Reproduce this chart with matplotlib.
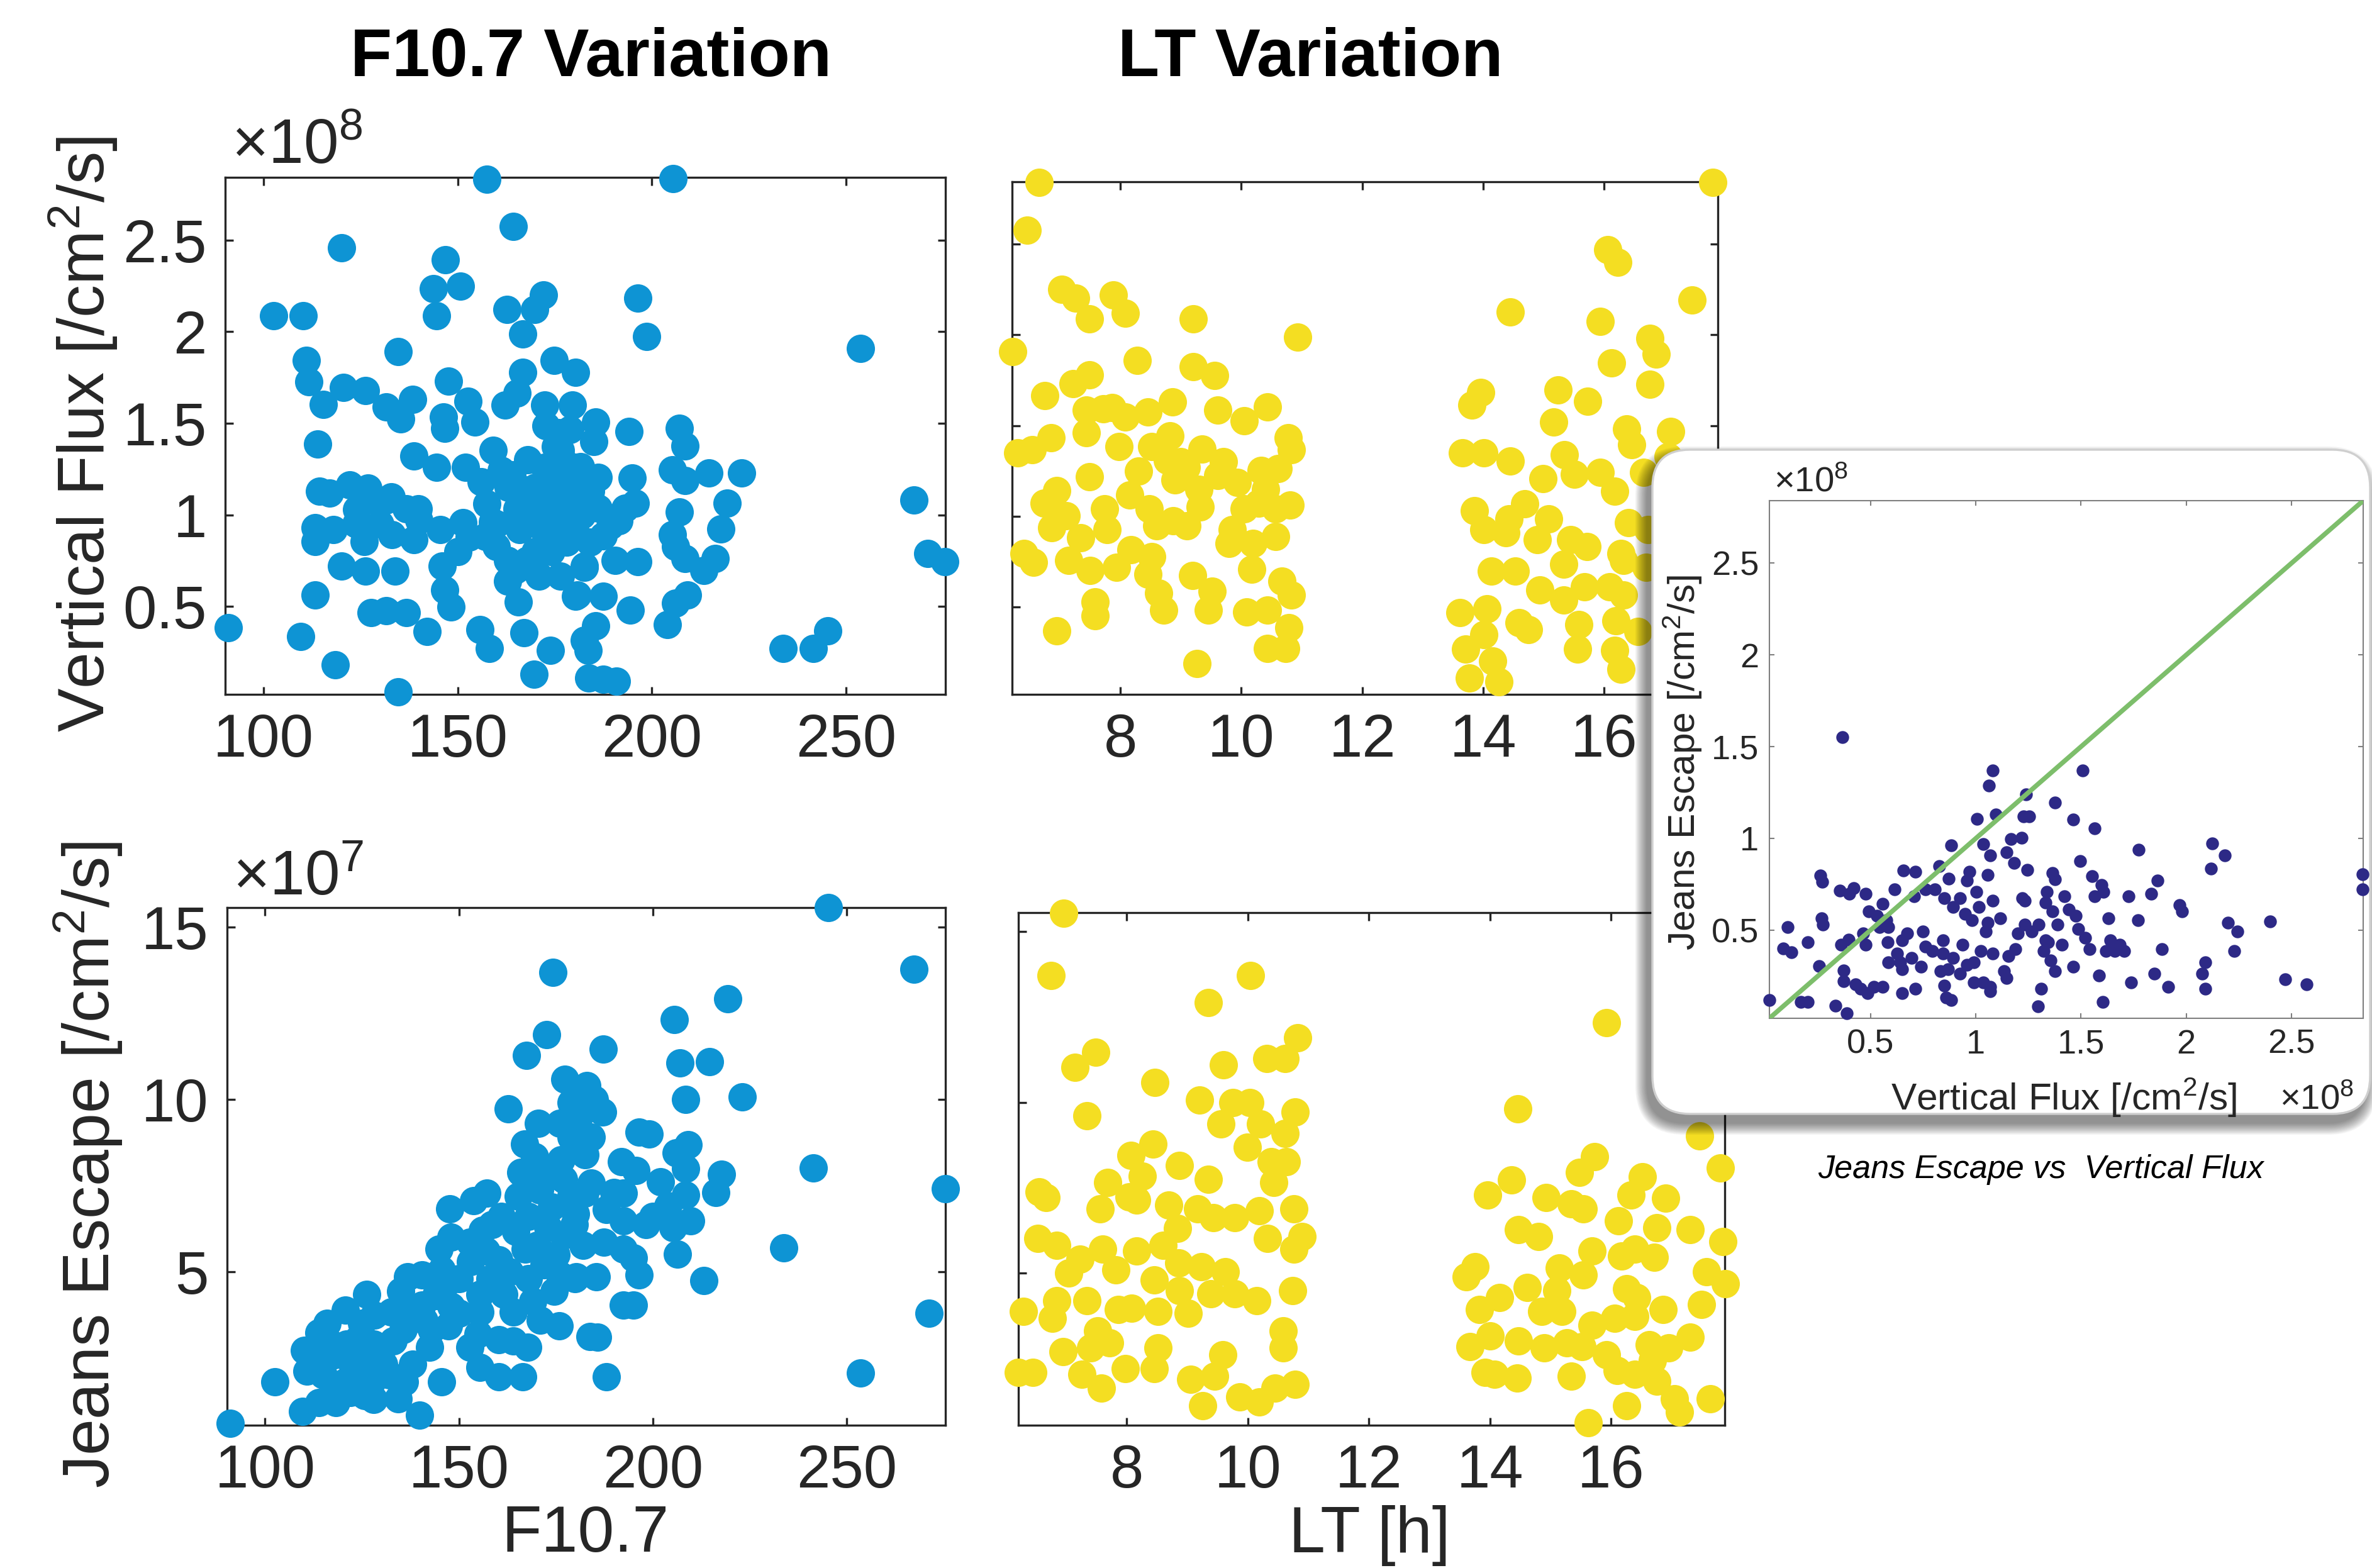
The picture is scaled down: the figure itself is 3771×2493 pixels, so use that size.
import matplotlib
matplotlib.use('Agg')
import matplotlib.pyplot as plt
import numpy as np
from matplotlib.patches import FancyBboxPatch
from matplotlib.ticker import FuncFormatter
from matplotlib.transforms import IdentityTransform

plt.rcParams['font.family'] = ['Liberation Sans', 'DejaVu Sans']
plt.rcParams['mathtext.fontset'] = 'custom'
plt.rcParams['mathtext.rm'] = 'Liberation Sans'
plt.rcParams['mathtext.it'] = 'Liberation Sans:italic'
plt.rcParams['mathtext.bf'] = 'Liberation Sans:bold'

# ---------------- data ----------------
# Panel 1: Vertical flux (1e8 /cm^2/s) vs F10.7
f107_top = [157.5,164.4,120.1,146.8,143.8,150.7,172.1,102.6,110.2,144.6,
            162.7,169.9,166.7,111.0,134.7,174.8,180.4,166.7,111.8,120.7,
            126.3,147.6,165.3,115.5,131.7,138.4,162.2,152.6,146.4,135.3,
            172.4,179.5,154.5,146.7,172.7,178.9,114.0,159.1,175.2,138.7,
            144.6,152.0,161.3,172.4,180.1,114.5,122.3,126.9,131.6,136.8,
            139.9,167.5,175.8,178.9,157.5,175.2,113.3,113.3,123.8,126.0,
            133.1,138.7,145.5,151.4,160.0,165.9,172.1,180.1,157.2,120.1,
            126.3,133.9,146.1,146.7,162.8,170.9,176.4,182.6,180.8,113.3,
            127.8,131.6,136.8,148.3,165.6,91.0,109.6,142.1,155.7,167.1,
            158.2,173.9,182.6,118.6,169.6,134.7,183.8,176.4,177.0,169.6,
            165.3,162.8,167.8,
            205.5,196.4,198.6,253.6,185.5,194.1,207.1,208.5,205.3,214.6,
            223.1,186.1,194.9,208.5,267.4,219.4,195.7,207.1,217.8,205.3,
            191.5,186.1,180.3,187.4,206.0,208.5,216.2,213.3,196.4,190.6,
            182.6,270.9,275.4,209.2,206.0,187.4,194.4,180.3,204.0,185.5,
            183.5,233.8,241.5,245.3,187.4,190.9,181.6,184.2,189.3,193.1,
            170.0,174.0,178.0,168.0,176.0,182.0,170.0,174.0,178.0,165.0,
            160.0,163.0,184.0,185.0,156.0,150.0,153.0,117.0,128.0,133.0,
            118.0,130.0,140.0,124.0,171.0,177.0,164.0,159.0,168.5,181.0]
vflux_top = [2.834,2.574,2.46,2.394,2.234,2.249,2.202,2.087,2.087,2.087,
             2.121,2.121,1.989,1.844,1.891,1.844,1.778,1.778,1.727,1.697,
             1.68,1.731,1.665,1.603,1.59,1.631,1.599,1.621,1.533,1.524,
             1.599,1.599,1.508,1.471,1.486,1.467,1.388,1.354,1.373,1.32,
             1.26,1.26,1.241,1.26,1.26,1.128,1.165,1.147,1.081,1.033,
             1.033,1.137,1.184,1.09,1.062,1.033,0.93,0.854,0.949,0.854,
             0.892,0.864,0.92,0.958,0.826,0.92,0.92,0.939,0.882,0.722,
             0.694,0.694,0.722,0.59,0.638,0.666,0.666,0.722,0.562,0.562,
             0.468,0.477,0.468,0.496,0.524,0.383,0.336,0.364,0.374,0.355,
             0.27,0.261,0.317,0.181,0.129,0.034,0.11,1.354,0.939,1.033,
             1.033,0.75,0.75,
             2.835,2.185,1.974,1.91,1.507,1.456,1.473,1.375,1.246,1.229,
             1.229,1.205,1.2,1.186,1.082,1.064,1.064,1.017,0.922,0.894,
             0.969,1.035,0.979,0.885,0.828,0.762,0.762,0.696,0.743,0.753,
             0.715,0.79,0.743,0.564,0.517,0.555,0.479,0.555,0.4,0.394,
             0.262,0.272,0.272,0.366,0.102,0.093,1.262,1.13,0.94,1.035,
             1.15,1.1,1.2,1.3,1.45,1.0,0.8,0.8,0.85,0.7,
             0.95,1.15,0.85,1.4,1.18,0.8,0.88,1.12,1.08,1.1,
             0.92,0.95,0.97,1.03,1.0,1.3,1.22,0.96,0.98,1.12]

# Panel 2: Vertical flux (1e8) vs LT
lt_top = [6.653,6.458,6.219,7.036,7.263,7.88,7.49,8.08,9.207,10.928,
          8.279,9.207,9.554,6.753,7.223,7.494,7.44,7.721,7.861,8.08,
          8.458,8.865,9.606,10.05,10.43,10.777,10.83,6.307,6.546,6.853,
          7.44,7.98,8.518,8.817,9.355,8.777,9.096,9.614,9.932,10.33,
          10.61,7.494,6.952,6.745,7.104,6.865,7.741,7.781,8.159,8.478,
          8.876,9.315,9.853,10.05,10.29,10.57,10.81,10.57,10.19,9.8,
          6.406,6.566,7.143,7.343,7.502,7.94,8.179,8.518,8.458,8.637,
          9.195,9.514,10.17,10.67,10.83,7.582,7.582,8.717,9.454,10.09,
          10.43,10.79,6.952,10.43,10.73,9.263,
          17.80,16.06,16.23,17.45,14.45,15.93,16.76,16.86,16.12,16.76,
          13.96,13.81,15.24,15.73,15.17,16.37,17.1,16.46,13.66,14.01,
          14.45,15.34,14.99,15.51,15.93,16.17,16.65,17.06,13.85,14.01,
          14.43,14.69,14.38,15.08,14.9,15.45,15.72,15.33,16.4,16.28,
          16.32,16.73,14.14,14.53,14.94,15.33,15.68,16.09,16.32,16.69,
          13.62,14.06,14.59,14.75,15.58,16.19,16.56,13.71,14.01,14.16,
          13.77,14.26,15.56,16.17,16.28,
          9.0,9.3,9.7,8.3,8.9,10.4,9.1,8.6]
vflux_lt = [2.838,2.578,1.907,2.249,2.202,2.221,2.088,2.12,2.088,1.989,
            1.86,1.826,1.776,1.664,1.731,1.778,1.585,1.591,1.598,1.547,
            1.575,1.632,1.585,1.528,1.604,1.433,1.366,1.351,1.366,1.433,
            1.461,1.385,1.385,1.442,1.37,1.309,1.271,1.224,1.186,1.252,
            1.262,1.22,1.142,1.072,1.005,0.939,1.043,0.929,1.119,1.043,
            0.977,1.053,0.929,1.043,1.072,1.043,1.062,0.891,0.853,0.853,
            0.796,0.749,0.758,0.882,0.701,0.72,0.815,0.777,0.682,0.578,
            0.673,0.587,0.711,0.644,0.568,0.53,0.454,0.483,0.483,0.473,
            0.483,0.388,0.369,0.274,0.274,0.189,
            2.838,2.468,2.401,2.191,2.125,2.075,1.98,1.894,1.847,1.729,
            1.681,1.614,1.696,1.633,1.519,1.481,1.468,1.395,1.351,1.351,
            1.306,1.338,1.208,1.233,1.243,1.138,1.243,1.329,1.033,0.929,
            0.986,1.071,0.91,0.986,0.871,0.871,0.833,0.738,0.967,0.795,
            0.757,0.929,0.7,0.7,0.595,0.538,0.614,0.614,0.567,0.719,
            0.471,0.49,0.414,0.376,0.405,0.424,0.367,0.271,0.348,0.205,
            0.11,0.091,0.271,0.262,0.157,
            1.3,1.15,1.3,1.25,1.2,1.15,0.95,0.95]

# Panel 3: Jeans escape (1e7) vs F10.7
f107_bot = [91.0,102.6,109.6,174.3,172.7,167.5,177.4,162.8,170.5,178.9,
            180.8,169.6,176.4,182.6,165.9,170.9,177.0,157.2,147.6,153.8,
            165.3,182.6,147.9,144.9,152.9,158.5,164.7,170.2,177.0,182.0,
            167.1,160.3,136.8,140.5,145.5,126.3,120.7,135.0,140.5,146.7,
            155.4,161.6,169.0,174.6,155.4,164.0,175.8,113.9,110.2,117.0,
            123.8,128.2,132.5,135.6,143.0,147.3,152.9,160.3,167.8,110.8,
            116.4,122.0,126.9,130.6,138.1,142.4,145.5,155.4,160.3,166.5,
            183.8,113.9,118.3,125.7,134.3,139.9,120.7,127.5,178.9,174.0,
            180.1,
            245.3,267.4,219.3,205.5,187.3,207.1,214.6,208.5,223.1,187.1,
            196.4,209.2,206.0,208.5,217.8,241.5,191.9,195.7,275.5,216.2,
            208.5,204.0,192.5,184.2,198.3,192.5,209.8,205.3,187.4,192.5,
            206.3,233.8,196.4,213.2,185.5,192.5,195.1,271.3,185.8,253.6,
            188.0,180.3,179.7,184.2,
            115.0,118.0,121.0,124.0,128.0,112.0,116.0,125.0,130.0,133.0,
            137.0,141.0,144.0,148.0,150.0,153.0,157.0,150.0,155.0,158.0,
            163.0,168.0,172.0,175.0,173.0,168.0,161.0,156.0,179.0,172.0,
            176.0,167.0,180.0,176.0,171.0,164.0,118.0,123.0,132.0,136.0,
            128.0,122.0,195.0,200.0,202.0,188.0,190.0,199.0,185.0,183.0]
jeans_f107 = [0.597,1.81,0.95,13.68,11.88,11.28,10.59,9.73,9.30,9.91,
              9.40,8.34,8.24,8.39,7.88,7.38,7.68,7.28,6.82,7.07,
              7.18,7.28,6.01,5.66,5.86,6.37,6.16,5.76,6.06,5.76,
              5.66,5.35,4.85,4.9,5.05,4.34,3.89,4.44,4.04,4.65,
              4.34,4.34,4.14,4.44,3.84,3.84,3.43,3.23,2.72,2.93,
              3.03,3.74,3.84,3.33,3.33,3.43,2.82,3.03,2.82,2.12,
              2.52,2.42,2.62,2.32,2.32,2.82,1.81,2.22,1.96,1.96,
              3.13,1.20,1.20,1.41,1.31,0.85,1.81,1.81,8.9,6.87,
              6.67,
              15.56,13.78,12.91,12.31,11.45,11.06,11.1,9.99,10.07,9.63,
              9.04,8.69,8.44,7.99,7.83,8.01,8.19,7.94,7.4,7.29,
              7.23,6.92,7.28,7.58,6.37,6.47,6.47,6.27,5.86,5.66,
              5.51,5.69,4.9,4.75,4.85,4.04,4.04,3.79,3.11,2.07,
              1.96,4.85,6.37,8.9,
              2.0,2.6,2.9,2.2,2.9,2.5,3.5,3.5,2.8,3.0,
              3.8,3.6,4.3,4.0,4.8,5.3,5.6,3.8,3.2,4.8,
              5.0,4.8,5.2,5.5,6.3,6.6,6.6,6.2,7.2,8.0,
              9.3,8.7,4.8,4.9,3.6,3.0,1.6,1.9,2.0,1.8,
              1.3,1.5,5.4,6.6,7.6,6.8,7.3,9.0,10.0,10.4]

# Panel 4: Jeans escape (1e7) vs LT
lt_bot = [6.954,6.755,10.04,9.352,10.82,7.491,7.145,10.31,10.62,9.598,
          8.469,7.344,9.205,9.749,10.03,10.78,9.551,10.21,10.62,9.988,
          8.429,8.072,7.682,8.258,8.04,8.875,9.352,10.39,10.64,10.43,
          6.549,6.668,7.563,8.159,8.696,9.173,9.431,9.789,10.19,10.76,
          8.835,10.33,10.9,10.76,6.529,6.847,7.225,7.602,7.821,8.159,
          8.596,8.855,9.233,9.63,7.046,8.457,8.875,9.392,9.789,10.15,
          10.74,6.29,6.847,6.767,7.344,7.861,8.08,8.517,9.014,7.523,
          7.722,7.404,6.946,8.517,9.59,10.58,10.58,6.211,6.45,7.264,
          7.583,7.98,8.457,9.054,9.451,9.253,9.869,10.19,10.45,10.78,
          15.93,14.46,17.46,17.81,15.73,15.48,14.36,13.96,14.93,15.34,
          15.54,16.52,16.33,16.9,16.12,16.76,17.31,17.85,14.47,14.8,
          15.69,16.18,16.72,16.39,13.75,13.61,15.54,15.15,17.58,17.89,
          17.5,16.26,16.43,16.86,13.83,14.16,14.62,15.11,14.86,15.19,
          15.69,16.06,16.39,14.0,13.67,14.47,14.9,15.27,15.52,15.93,
          16.1,16.39,16.63,16.96,17.31,16.68,16.76,13.92,14.08,14.45,
          15.34,16.26,17.05,17.13,17.64,15.63]
jeans_lt = [15.54,13.71,13.71,12.93,11.89,11.47,11.03,11.29,11.29,11.11,
            10.59,9.62,10.07,9.99,9.99,9.73,9.38,9.38,9.09,8.69,
            8.79,8.46,7.65,7.85,7.24,8.16,7.75,8.26,8.26,7.65,
            7.39,7.21,6.88,7.14,6.99,6.88,6.63,6.63,6.83,6.88,
            6.32,6.02,6.07,5.71,6.02,5.81,5.41,5.71,5.1,5.66,
            5.81,5.31,5.2,5.05,5.0,4.8,4.49,4.39,4.39,4.19,
            4.49,3.88,4.19,3.68,4.19,3.93,3.98,3.88,3.83,3.32,
            2.96,2.81,2.71,2.81,2.61,3.32,2.81,2.1,2.1,2.05,
            1.64,2.2,2.2,1.89,1.99,1.13,1.38,1.23,1.64,1.74,
            12.33,9.81,9.02,8.08,8.41,7.95,7.73,7.29,7.21,7.04,
            6.88,7.82,7.29,7.19,6.53,6.34,6.27,5.92,6.27,6.07,
            5.66,5.51,5.46,5.71,5.2,4.9,4.95,5.15,5.05,4.69,
            4.08,4.54,4.29,3.93,3.93,4.29,4.59,4.49,3.88,3.88,
            3.47,3.68,3.73,3.17,2.86,3.01,2.81,2.96,2.86,2.61,
            2.15,2.05,2.91,2.81,3.12,2.45,1.84,2.1,2.05,1.94,
            1.99,1.13,1.33,0.93,1.33,0.62]

# Inset: Jeans escape (1e8) vs vertical flux (1e8)
vflux_in = [0.019,0.107,0.085,0.125,0.201,0.168,0.201,0.261,0.27,0.267,
            0.274,0.256,0.366,0.355,0.399,0.421,0.362,0.395,0.373,0.373,
            0.333,0.388,0.428,0.454,0.476,0.476,0.465,0.487,0.515,0.559,
            0.493,0.559,0.531,0.575,0.586,0.542,0.581,0.614,0.656,0.713,
            0.706,0.651,0.625,0.641,0.651,0.651,0.713,0.695,0.739,0.75,
            0.761,0.805,0.827,0.849,0.761,0.794,0.845,0.845,0.832,0.849,
            0.86,0.882,0.871,0.882,0.893,0.867,0.893,0.926,0.937,0.959,
            0.926,0.948,0.97,0.959,1.003,0.981,0.992,0.992,1.014,1.007,
            1.036,1.047,1.058,1.025,1.036,1.069,1.069,1.08,1.064,1.08,
            1.069,1.058,1.08,1.095,1.117,1.134,1.145,1.145,1.167,1.156,
            1.189,1.183,1.218,1.222,1.2,1.227,1.24,1.233,1.255,1.244,
            1.266,1.233,1.299,1.31,1.295,1.332,1.321,1.336,1.343,1.354,
            1.376,1.376,1.365,1.376,1.365,1.387,1.409,1.42,1.442,1.464,
            1.464,1.475,1.508,1.497,1.486,1.519,1.541,1.563,1.552,1.563,
            1.585,1.602,1.596,1.607,1.618,1.629,1.639,1.661,1.683,1.705,
            1.727,1.738,1.771,1.775,1.833,1.848,1.863,1.885,1.914,1.969,
            1.98,2.074,2.089,2.089,2.118,2.122,2.184,2.199,2.228,2.243,
            2.397,2.469,2.572,2.838,2.838,1.332,0.586,0.673]
jeans_in = [0.12,0.517,0.401,0.38,0.433,0.108,0.108,0.798,0.762,0.565,
            0.529,0.305,1.552,0.714,0.697,0.729,0.421,0.449,0.281,0.223,
            0.088,0.048,0.204,0.18,0.697,0.421,0.481,0.156,0.192,0.192,
            0.601,0.642,0.577,0.553,0.517,0.517,0.433,0.721,0.825,0.818,
            0.685,0.445,0.372,0.324,0.288,0.156,0.18,0.348,0.3,0.493,
            0.721,0.721,0.849,0.673,0.409,0.385,0.445,0.372,0.276,0.199,
            0.132,0.12,0.782,0.962,0.625,0.288,0.348,0.264,0.421,0.312,
            0.673,0.589,0.818,0.77,0.709,0.553,0.324,0.216,0.625,1.107,
            0.969,0.493,0.541,0.385,0.216,0.192,0.168,0.372,1.287,1.371,
            0.909,0.801,0.661,1.131,0.565,0.276,0.24,0.926,0.998,0.36,
            0.397,0.866,1.005,0.673,0.481,1.119,1.239,0.661,1.119,0.83,
            0.493,0.529,0.529,0.18,0.084,0.445,0.385,0.709,0.433,0.336,
            0.276,1.196,0.81,0.777,0.601,0.529,0.421,0.685,0.613,1.102,
            0.3,0.577,1.371,0.878,0.505,0.457,0.397,1.054,0.794,0.685,
            0.252,0.108,0.745,0.709,0.385,0.565,0.445,0.385,0.421,0.385,
            0.685,0.216,0.553,0.938,0.697,0.264,0.77,0.397,0.192,0.637,
            0.601,0.264,0.324,0.18,0.837,0.974,0.907,0.541,0.385,0.493,
            0.546,0.233,0.204,0.806,0.721,0.649,0.324,0.481]

f107_ticks = [100, 150, 200, 250]
lt_ticks = [8, 10, 12, 14, 16]
vflux_ticks = [0.5, 1, 1.5, 2, 2.5]
jeans_ticks = [5, 10, 15]
inset_ticks = [0.5, 1, 1.5, 2, 2.5]

# ---------------- layout ----------------
W, H = 3771, 2493
DPI = 300
fig = plt.figure(figsize=(W / DPI, H / DPI), dpi=DPI)
fig.patch.set_facecolor('white')

def rect(l, t, r, b):
    return [l / W, 1 - b / H, (r - l) / W, (b - t) / H]

def fxy(x, y):
    return x / W, 1 - y / H

BLUE = '#0E94D4'
YELLOW = '#F4DE22'
NAVY = '#2D2986'
GREEN = '#7DBE6B'
AX_COL = '#262626'

F107_LIM = (90.2, 275.5)
LT_LIM = (6.21, 17.88)
VF_LIM = (0.02, 2.843)
JE_LIM = (0.55, 15.56)
IN_LIM = (0.02, 2.84)

fmt = FuncFormatter(lambda v, p: f'{v:g}')

def style(ax, xlim, ylim, xticks, yticks, ylabels=True, lsize=23, tlen=3.0,
          lw=0.8, col=AX_COL, pad=7):
    ax.set_xlim(xlim)
    ax.set_ylim(ylim)
    ax.set_xticks(xticks)
    ax.set_yticks(yticks)
    ax.xaxis.set_major_formatter(fmt)
    ax.yaxis.set_major_formatter(fmt)
    ax.tick_params(which='both', direction='in', top=True, right=True,
                   length=tlen, width=lw, color=col, labelcolor=AX_COL,
                   labelsize=lsize, pad=pad)
    if not ylabels:
        ax.tick_params(labelleft=False)
    for s in ax.spines.values():
        s.set_linewidth(lw)
        s.set_color(col)

MS = 117

ax1 = fig.add_axes(rect(358, 282, 1503, 1104))
ax1.scatter(f107_top, vflux_top, s=MS, c=BLUE, linewidths=0, clip_on=False, zorder=3)
style(ax1, F107_LIM, VF_LIM, f107_ticks, vflux_ticks)

ax2 = fig.add_axes(rect(1609, 289, 2731, 1104))
ax2.scatter(lt_top, vflux_lt, s=MS, c=YELLOW, linewidths=0, clip_on=False, zorder=3)
style(ax2, LT_LIM, VF_LIM, lt_ticks, vflux_ticks, ylabels=False)

ax3 = fig.add_axes(rect(361, 1443, 1503, 2266))
ax3.scatter(f107_bot, jeans_f107, s=MS, c=BLUE, linewidths=0, clip_on=False, zorder=3)
style(ax3, F107_LIM, JE_LIM, f107_ticks, jeans_ticks)

ax4 = fig.add_axes(rect(1619, 1451, 2742, 2266))
ax4.scatter(lt_bot, jeans_lt, s=MS, c=YELLOW, linewidths=0, clip_on=False, zorder=3)
style(ax4, LT_LIM, JE_LIM, lt_ticks, jeans_ticks, ylabels=False)

# titles and labels
fig.text(*fxy(940, 93), 'F10.7 Variation', ha='center', va='center',
         fontsize=26, fontweight='bold', color='black')
fig.text(*fxy(2083, 93), 'LT Variation', ha='center', va='center',
         fontsize=26, fontweight='bold', color='black')
fig.text(*fxy(132, 690), 'Vertical Flux [/cm$^2$/s]', rotation=90,
         ha='center', va='center', fontsize=25, color=AX_COL)
fig.text(*fxy(140, 1852), 'Jeans Escape [/cm$^2$/s]', rotation=90,
         ha='center', va='center', fontsize=25, color=AX_COL)
fig.text(*fxy(931, 2441), 'F10.7', ha='center', va='center', fontsize=25, color=AX_COL)
fig.text(*fxy(2177, 2441), 'LT [h]', ha='center', va='center', fontsize=25, color=AX_COL)
fig.text(*fxy(368, 260), '×10$^{8}$', ha='left', va='baseline', fontsize=24, color=AX_COL)
fig.text(*fxy(370, 1422), '×10$^{7}$', ha='left', va='baseline', fontsize=24, color=AX_COL)

# ---------------- inset panel ----------------
bx0, bx1, btop, bbot = 2627, 3768, 715, 1771
bw, bh = bx1 - bx0, bbot - btop
rad = 60
for k in range(12):
    g = 12 - k
    sh = FancyBboxPatch((bx0 - 8 - g * 1.6, H - bbot - 14 - g * 1.6),
                        bw + g * 3.2, bh + g * 3.2,
                        boxstyle=f'round,pad=0,rounding_size={rad + g * 1.6}',
                        transform=IdentityTransform(), facecolor='black',
                        edgecolor='none', alpha=0.045, zorder=5)
    fig.add_artist(sh)
box = FancyBboxPatch((bx0, H - bbot), bw, bh,
                     boxstyle=f'round,pad=0,rounding_size={rad}',
                     transform=IdentityTransform(), facecolor='white',
                     edgecolor='#cfcfcf', linewidth=0.8, zorder=6)
fig.add_artist(box)

axi = fig.add_axes(rect(2813, 796, 3757, 1619), zorder=7)
axi.scatter(vflux_in, jeans_in, s=24, c=NAVY, linewidths=0, clip_on=False, zorder=3)
axi.plot(IN_LIM, IN_LIM, color=GREEN, lw=1.8, zorder=4)
style(axi, IN_LIM, IN_LIM, inset_ticks, inset_ticks, lsize=13, tlen=2.0,
      lw=0.5, col='#7f7f7f', pad=4)

fig.text(*fxy(2675, 1212), 'Jeans Escape [/cm$^2$/s]', rotation=90,
         ha='center', va='center', fontsize=14.5, color=AX_COL, zorder=8)
fig.text(*fxy(3281, 1745), 'Vertical Flux [/cm$^2$/s]', ha='center',
         va='center', fontsize=14.5, color=AX_COL, zorder=8)
fig.text(*fxy(2820, 782), '×10$^{8}$', ha='left', va='baseline',
         fontsize=13.5, color=AX_COL, zorder=8)
fig.text(*fxy(3624, 1763), '×10$^{8}$', ha='left', va='baseline',
         fontsize=13.5, color=AX_COL, zorder=8)

fig.text(*fxy(3244, 1859), 'Jeans Escape vs  Vertical Flux', ha='center',
         va='center', fontsize=12.5, style='italic', color='black')

fig.savefig('out.png', dpi=DPI, facecolor='white')
